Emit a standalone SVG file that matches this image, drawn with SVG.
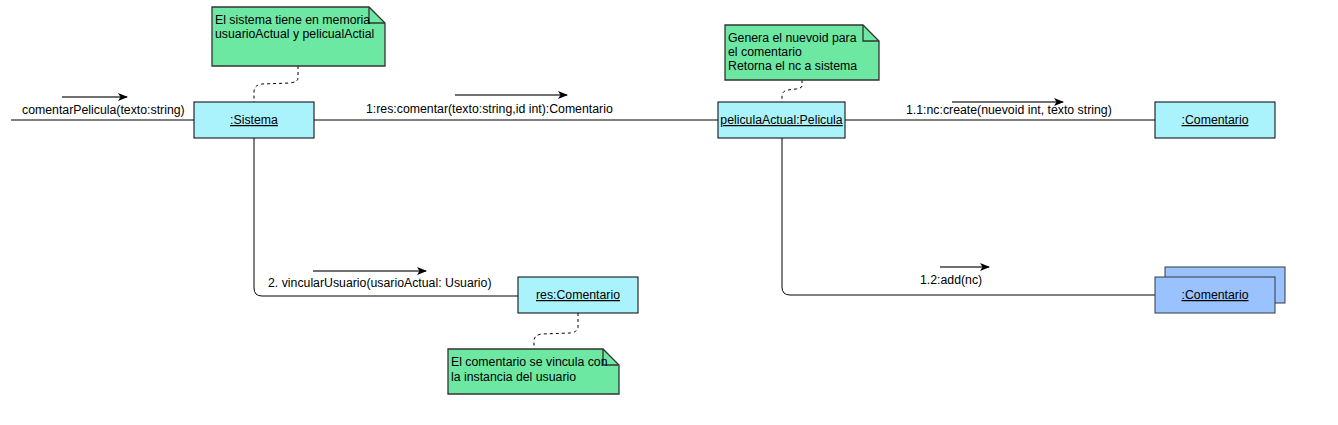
<svg xmlns="http://www.w3.org/2000/svg" width="1338" height="425" viewBox="0 0 1338 425">
<style>
text{font-family:"Liberation Sans",Arial,sans-serif;font-size:12.3px;fill:#000}
.obj{fill:#AAF3FD;stroke:#000;stroke-width:1}
.multi{fill:#99C2FF;stroke:#36393d;stroke-width:1}
.note{fill:#6DE8A3;stroke:#333;stroke-width:1.3}
.fold{fill:none;stroke:#333;stroke-width:1.3}
.u{text-decoration:underline}
.link{fill:none;stroke:#000;stroke-width:1}
.dash{fill:none;stroke:#000;stroke-width:1;stroke-dasharray:3 3}
.msg{stroke:#404040;stroke-width:1.3;marker-end:url(#ah)}
</style>
<defs>
<marker id="ah" viewBox="0 0 10 8" refX="9" refY="4" markerWidth="10" markerHeight="8" markerUnits="userSpaceOnUse" orient="auto">
<path d="M0,0 L10,4 L0,8 L2.5,4 z" fill="#000"/>
</marker>
</defs>
<rect width="1338" height="425" fill="#fff"/>
<g id="connectors">
<line class="link" x1="11" y1="120" x2="194" y2="120"/>
<line class="link" x1="314" y1="120" x2="718" y2="120"/>
<line class="link" x1="845" y1="120" x2="1155" y2="120"/>
<path class="link" d="M254,138 V288 Q254,296 262,296 H518"/>
<path class="link" d="M782,138 V287 Q782,295 790,295 H1155"/>
<path class="dash" d="M298,66 V78 Q298,82 290,83 L262,84 Q254,85 254,92 V102"/>
<path class="dash" d="M802,80 V86 Q802,88 796,89 L788,90 Q782,91 782,96 V102"/>
<path class="dash" d="M578,313 V327 Q578,332 570,333 L542,334 Q534,335 534,341 V349"/>
<line class="msg" x1="62" y1="97" x2="127" y2="97"/>
<line class="msg" x1="455" y1="95" x2="567" y2="95"/>
<line class="msg" x1="952" y1="102" x2="1063" y2="102"/>
<line class="msg" x1="940" y1="267" x2="989" y2="267"/>
<line class="msg" x1="313" y1="271" x2="426" y2="271"/>
<text x="22" y="114">comentarPelicula(texto:string)</text>
<text x="366" y="113">1:res:comentar(texto:string,id int):Comentario</text>
<text x="906" y="114">1.1:nc:create(nuevoid int, texto string)</text>
<text x="920" y="284">1.2:add(nc)</text>
<text x="268" y="287">2. vincularUsuario(usarioActual: Usuario)</text>
</g>
<g id="note1">
<path class="note" d="M212,7 H369 L385,23 V66 H212 Z"/>
<path class="fold" d="M369,7 V23 H385"/>
<text x="215" y="24">El sistema tiene en memoria</text>
<text x="215" y="38">usuarioActual y pelicualActial</text>
</g>
<g id="sistema">
<rect class="obj" x="194" y="102" width="120" height="36"/>
<text class="u" x="254" y="124" text-anchor="middle">:Sistema</text>
</g>
<g id="note2">
<path class="note" d="M725,25 H863 L879,41 V80 H725 Z"/>
<path class="fold" d="M863,25 V41 H879"/>
<text x="728" y="42">Genera el nuevoid para</text>
<text x="728" y="56">el comentario</text>
<text x="728" y="70">Retorna el nc a sistema</text>
</g>
<g id="peliculaActual">
<rect class="obj" x="718" y="102" width="127" height="36"/>
<text class="u" x="781.5" y="124" text-anchor="middle">peliculaActual:Pelicula</text>
</g>
<g id="comentario">
<rect class="obj" x="1155" y="102" width="120" height="36"/>
<text class="u" x="1215" y="124" text-anchor="middle">:Comentario</text>
</g>
<g id="comentarios">
<rect class="multi" x="1165" y="267" width="120" height="36"/>
<rect class="multi" x="1155" y="277" width="120" height="36"/>
<text class="u" x="1215" y="299" text-anchor="middle">:Comentario</text>
</g>
<g id="resComentario">
<rect class="obj" x="518" y="277" width="120" height="36"/>
<text class="u" x="578" y="299" text-anchor="middle">res:Comentario</text>
</g>
<g id="note3">
<path class="note" d="M448,349 H603 L619,365 V394 H448 Z"/>
<path class="fold" d="M603,349 V365 H619"/>
<text x="451" y="366">El comentario se vincula con</text>
<text x="451" y="381">la instancia del usuario</text>
</g>
</svg>
